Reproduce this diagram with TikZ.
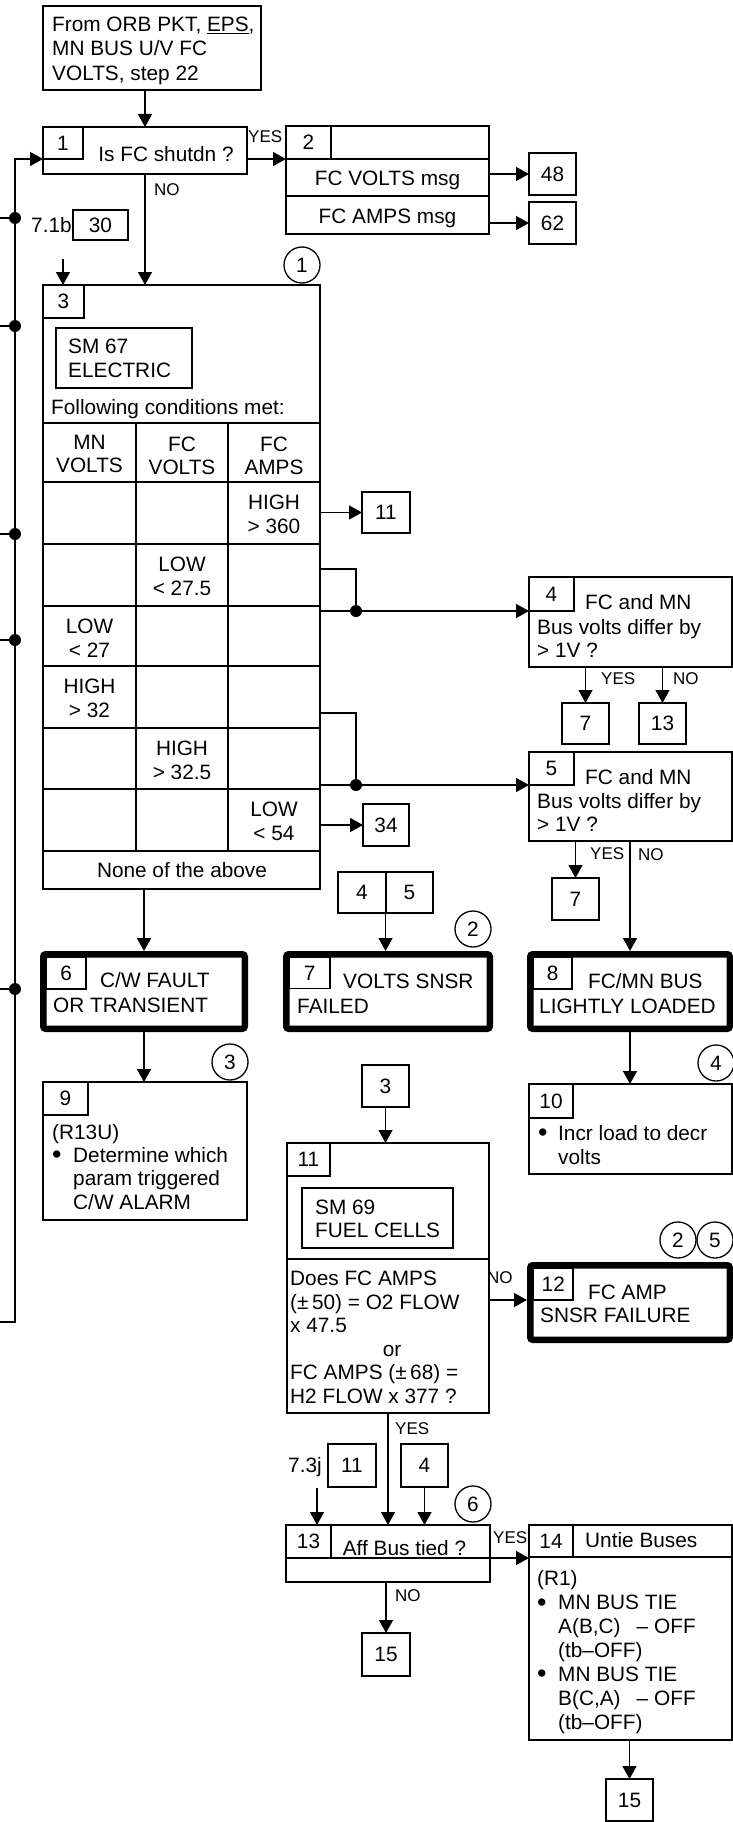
\documentclass[tikz,border=0pt]{standalone}
\usepackage{fontspec}
\setmainfont{Liberation Sans}
\usetikzlibrary{arrows.meta}
\newcommand\bul{\raisebox{-1.8pt}{\fontsize{27}{27}\selectfont •}}
\begin{document}
\begin{tikzpicture}[x=1pt,y=-1pt, font=\fontsize{20.8}{25}\selectfont,
  box/.style={draw, line width=1.4pt, anchor=north west, inner sep=0pt, outer sep=0pt},
  bx/.style 2 args={box, minimum width=#1pt, minimum height=#2pt},
  tb/.style 2 args={draw, line width=6.5pt, rounded corners=2.5pt, anchor=north west, inner sep=0pt, outer sep=3.25pt, minimum width=#1pt, minimum height=#2pt},
  arr/.style={line width=1.4pt, -{Triangle[length=13pt,width=14pt]}},
  ln/.style={line width=1.4pt},
  tx/.style={anchor=base west, inner sep=0pt},
  tc/.style={anchor=base, inner sep=0pt},
  sm/.style={font=\fontsize{17}{20}\selectfont},
  cn/.style={draw, circle, line width=1.3pt, minimum size=36pt, inner sep=0pt},
]
\useasboundingbox (0,0) rectangle (733,1822);

% ---------- top entry box
\node[bx={218}{84}] (top) at (43,6) {};
\node[tx] (top1) at (52,31.5) {From ORB PKT, \underline{EPS},};
\node[tx] (top2) at (52,56) {MN BUS U/V FC};
\node[tx] (top3) at (52,81) {VOLTS, step 22};

% ---------- step 1
\node[bx={204}{47}] (s1) at (43,127) {};
\node[bx={40}{32}] (n1) at (43,127) {1};
\node[tc] (s1t) at (166,161.5) {Is FC shutdn ?};
\node[tx,sm] (yes1) at (248,143) {YES};
\node[tx,sm] (no1) at (154,196) {NO};

% ---------- step 2
\node[bx={203}{108}] (s2) at (286,126) {};
\draw[ln] (286,159) -- (489,159);
\draw[ln] (331,126) -- (331,159);
\draw[ln] (286,196) -- (489,196);
\node[bx={45}{33}, draw=none] (n2) at (286,126) {2};
\node[tc] (s2a) at (387.5,185.5) {FC VOLTS msg};
\node[tc] (s2b) at (387.5,223.5) {FC AMPS msg};
\node[bx={47}{42}] (b48) at (529,153) {48};
\node[bx={47}{42}] (b62) at (529,202) {62};

% ---------- circle 1, entry 7.1b
\node[cn] (c1) at (302,265) {1};
\node[tx] (l71) at (31,232) {7.1b};
\node[bx={55}{30}] (b30) at (73,210) {30};
\coordinate (c71) at (63,259);

% ---------- step 3 (table)
\node[bx={277}{604}] (s3) at (43,285) {};
\node[bx={41}{33}] (n3) at (43,285) {3};
\node[bx={136}{60}] (sm67) at (56,328) {};
\node[tx] (sm67a) at (68,353.5) {SM 67};
\node[tx] (sm67b) at (68,377.5) {ELECTRIC};
\node[tx] (fol) at (51,414.5) {Following conditions met:};
\draw[ln] (43,423) -- (320,423);
\foreach \yy in {482,544,606,666,728,789,851} \draw[ln] (43,\yy) -- (320,\yy);
\draw[ln] (136,423) -- (136,851);
\draw[ln] (228,423) -- (228,851);
\node[tc] (h1a) at (89.5,449.5) {MN};
\node[tc] (h1b) at (89.5,472) {VOLTS};
\node[tc] (h2a) at (182,451.5) {FC};
\node[tc] (h2b) at (182,474) {VOLTS};
\node[tc] (h3a) at (274,451.5) {FC};
\node[tc] (h3b) at (274,474) {AMPS};
\node[tc] (r1a) at (274,509.5) {HIGH};
\node[tc] (r1b) at (274,533.5) {> 360};
\node[tc] (r2a) at (182,571.5) {LOW};
\node[tc] (r2b) at (182,595.5) {< 27.5};
\node[tc] (r3a) at (89.5,633.5) {LOW};
\node[tc] (r3b) at (89.5,657.5) {< 27};
\node[tc] (r4a) at (89.5,693.5) {HIGH};
\node[tc] (r4b) at (89.5,717.5) {> 32};
\node[tc] (r5a) at (182,755.5) {HIGH};
\node[tc] (r5b) at (182,779.5) {> 32.5};
\node[tc] (r6a) at (274,816.5) {LOW};
\node[tc] (r6b) at (274,840.5) {< 54};
\node[tc] (none) at (182,877) {None of the above};

\node[bx={48}{41}] (b11) at (362,492) {11};
\node[bx={46}{42}] (b34) at (363,804) {34};
\coordinate (g1) at (320,569);
\coordinate (d4) at (356,611);
\coordinate (g2) at (320,713);
\coordinate (d5) at (356,785);

% ---------- steps 4, 5
\node[bx={203}{90}] (s4) at (529,577) {};
\node[bx={45}{34}] (n4) at (529,577) {4};
\node[tx] (s4a) at (585,609.5) {FC and MN};
\node[tx] (s4b) at (537,634) {Bus volts differ by};
\node[tx] (s4c) at (537,657.5) {> 1V ?};
\node[bx={47}{41}] (b7a) at (562,703) {7};
\node[bx={47}{41}] (b13a) at (639,703) {13};
\node[tx,sm] (yes4) at (601,684) {YES};
\node[tx,sm] (no4) at (673,684) {NO};

\node[bx={203}{89}] (s5) at (529,752) {};
\node[bx={45}{33}] (n5) at (529,752) {5};
\node[tx] (s5a) at (585,784) {FC and MN};
\node[tx] (s5b) at (537,808) {Bus volts differ by};
\node[tx] (s5c) at (537,831.5) {> 1V ?};
\node[bx={47}{42}] (b7b) at (552,878) {7};
\node[tx,sm] (yes5) at (590,859) {YES};
\node[tx,sm] (no5) at (638,860) {NO};

\node[bx={95}{41}] (b45) at (338,872) {};
\draw[ln] (386,872) -- (386,913);
\node[anchor=center, inner sep=0pt] (b45a) at (362,892.5) {4};
\node[anchor=center, inner sep=0pt] (b45b) at (409.5,892.5) {5};
\node[cn] (c2a) at (473,929) {2};

% ---------- thick boxes 6, 7, 8
\node[tb={201.5}{74.5}] (s6) at (40,951) {};
\node[bx={39.5}{31.5}] (n6) at (46.5,957.5) {6};
\node[tx] (s6a) at (100,987.5) {C/W FAULT};
\node[tx] (s6b) at (53,1012.5) {OR TRANSIENT};

\node[tb={203.5}{74.5}] (s7) at (283,951) {};
\node[bx={40.5}{31}] (n7) at (289.5,957.5) {7};
\node[tx] (s7a) at (343,988.5) {VOLTS SNSR};
\node[tx] (s7b) at (297,1013.5) {FAILED};

\node[tb={199.5}{74.5}] (s8) at (527,951) {};
\node[bx={38.5}{31.5}] (n8) at (533.5,957.5) {8};
\node[tx] (s8a) at (588,988) {FC/MN BUS};
\node[tx] (s8b) at (539,1013) {LIGHTLY LOADED};

\node[cn] (c3) at (230,1062) {3};
\node[cn] (c4) at (716,1063) {4};

% ---------- step 9
\node[bx={204}{138}] (s9) at (43,1082) {};
\node[bx={45}{33}] (n9) at (43,1082) {9};
\node[tx] (s9a) at (52,1139.5) {(R13U)};
\node[tx] (s9bul) at (52,1162) {\bul};
\node[tx] (s9b) at (73,1162) {Determine which};
\node[tx] (s9c) at (73,1185.5) {param triggered};
\node[tx] (s9d) at (73,1209) {C/W ALARM};

% ---------- step 10
\node[bx={203}{90}] (s10) at (529,1084) {};
\node[bx={44}{34}] (n10) at (529,1084) {10};
\node[tx] (s10bul) at (538,1140) {\bul};
\node[tx] (s10a) at (558,1140) {Incr load to decr};
\node[tx] (s10b) at (558,1164) {volts};

% ---------- step 11
\node[bx={47}{42}] (b3) at (362,1065) {3};
\node[bx={202}{270}] (s11) at (287,1143) {};
\node[bx={43}{33}] (n11) at (287,1143) {11};
\node[bx={151}{60}] (sm69) at (302,1188) {};
\node[tx] (sm69a) at (315,1214.5) {SM 69};
\node[tx] (sm69b) at (315,1237.5) {FUEL CELLS};
\draw[ln] (287,1259) -- (489,1259);
\node[tx] (q1) at (290,1285.5) {Does FC AMPS};
\node[tx] (q2) at (290,1309) {(±\,50) = O2 FLOW};
\node[tx] (q3) at (290,1332.5) {x 47.5};
\node[tc] (q4) at (392,1356) {or};
\node[tx] (q5) at (290,1379.5) {FC AMPS (±\,68) =};
\node[tx] (q6) at (290,1403) {H2 FLOW x 377 ?};
\node[tx,sm] (no11) at (487,1283) {NO};

% ---------- step 12
\node[tb={199.5}{74.5}] (s12) at (527,1262) {};
\node[bx={39.5}{31.5}] (n12) at (533.5,1268.5) {12};
\node[tx] (s12a) at (588,1299.5) {FC AMP};
\node[tx] (s12b) at (540,1322.5) {SNSR FAILURE};
\node[cn] (c2b) at (678,1240) {2};
\node[cn] (c5) at (715,1240) {5};

% ---------- step 13
\node[tx,sm] (yes11) at (395,1434) {YES};
\node[tx] (l73) at (288,1472) {7.3j};
\node[bx={48}{43}] (b11b) at (328,1444) {11};
\node[bx={47}{43}] (b4b) at (401,1444) {4};
\coordinate (c73) at (317,1488);
\node[cn] (c6) at (473,1504) {6};
\node[bx={204}{57}] (s13) at (286,1525) {};
\node[bx={45}{33}] (n13) at (286,1525) {13};
\draw[ln] (286,1558) -- (490,1558);
\node[tc] (s13t) at (404.5,1555.5) {Aff Bus tied ?};
\node[tx,sm] (yes13) at (493,1543) {YES};
\node[tx,sm] (no13) at (395,1601) {NO};
\node[bx={48}{43}] (b15a) at (362,1633) {15};

% ---------- step 14
\node[bx={203}{215}] (s14) at (529,1525) {};
\draw[ln] (529,1557) -- (732,1557);
\node[bx={44}{32}] (n14) at (529,1525) {14};
\node[tx] (s14h) at (585,1547.5) {Untie Buses};
\node[tx] (s14a) at (537,1585.5) {(R1)};
\node[tx] (s14bul1) at (537,1609.5) {\bul};
\node[tx] (s14b) at (558,1609.5) {MN BUS TIE};
\node[tx] (s14c) at (558,1633.5) {A(B,C)\hspace{16pt}–\hspace{6pt}OFF};
\node[tx] (s14d) at (558,1657) {(tb–OFF)};
\node[tx] (s14bul2) at (537,1681) {\bul};
\node[tx] (s14e) at (558,1681) {MN BUS TIE};
\node[tx] (s14f) at (558,1705) {B(C,A)\hspace{16pt}–\hspace{6pt}OFF};
\node[tx] (s14g) at (558,1729) {(tb–OFF)};
\node[bx={47}{42}] (b15b) at (606,1779) {15};

% ---------- connectors
\coordinate (Lb) at (0,1322);
\coordinate (Lc) at (15,1322);
\draw[arr] (Lb) -- (Lc) -- (Lc |- n1.south) -- (n1.south west);
\foreach \yy [count=\i] in {218,326,534,640,989} {
  \coordinate (f\i) at (0,\yy);
  \draw[ln] (f\i) -- (f\i -| Lc);
  \fill (f\i -| Lc) circle (6pt);
}
\draw[arr] (s1.north |- top.south) -- (s1.north);
\draw[arr] (s1.east |- n1.south) -- (s2.west |- n1.south);
\draw[arr] (s2.east |- b48.west) -- (b48.west);
\draw[arr] (s2.east |- b62.west) -- (b62.west);
\draw[arr] (s1.south) -- (s1.south |- s3.north);
\draw[arr] (c71) -- (c71 |- s3.north);
\draw[arr] (s3.east |- b11.west) -- (b11.west);
\draw[ln] (g1) -| (d4);
\draw[arr] (s3.east |- d4) -- (n4.south west);
\fill (d4) circle (6pt);
\draw[ln] (g2) -| (d5);
\draw[arr] (s3.east |- d5) -- (n5.south west);
\fill (d5) circle (6pt);
\draw[arr] (s3.east |- b34.west) -- (b34.west);
\draw[arr] (b7a.north |- s4.south) -- (b7a.north);
\draw[arr] (b13a.north |- s4.south) -- (b13a.north);
\draw[arr] (b7b.north |- s5.south) -- (b7b.north);
\draw[arr] (s8.north |- s5.south) -- (s8.north);
\draw[arr] (s6.north |- s3.south) -- (s6.north);
\draw[arr] (b45.south) -- (b45.south |- s7.north);
\draw[arr] (s6.south) -- (s6.south |- s9.north);
\draw[arr] (s8.south) -- (s8.south |- s10.north);
\draw[arr] (b3.south) -- (b3.south |- s11.north);
\draw[arr] (s11.east |- n12.south) -- (s12.west |- n12.south);
\draw[arr] (s11.south) -- (s11.south |- s13.north);
\draw[arr] (c73) -- (c73 |- s13.north);
\draw[arr] (b4b.south) -- (b4b.south |- s13.north);
\draw[arr] (s13.east |- n13.south) -- (s14.west |- n13.south);
\draw[arr] (b15a.north |- s13.south) -- (b15a.north);
\draw[arr] (b15b.north |- s14.south) -- (b15b.north);
\end{tikzpicture}
\end{document}
